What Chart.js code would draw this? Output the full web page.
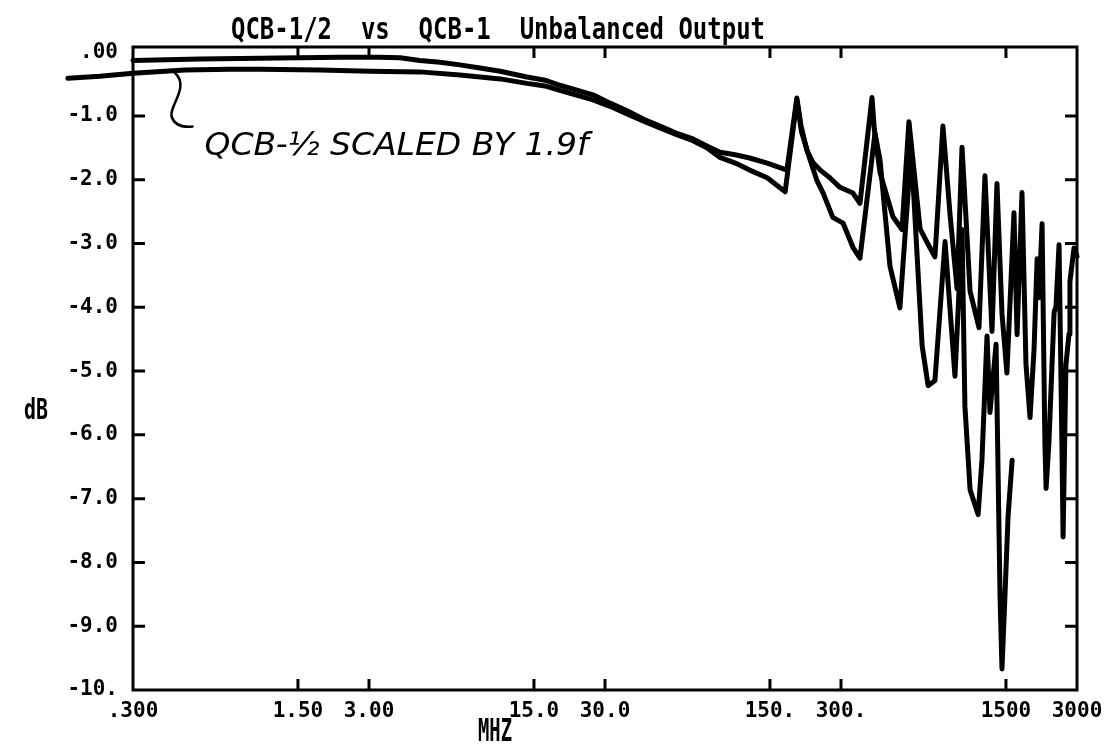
<!DOCTYPE html>
<html>
<head>
<meta charset="utf-8">
<title>QCB-1/2 vs QCB-1 Unbalanced Output</title>
<script src="https://cdn.jsdelivr.net/npm/chart.js@4/dist/chart.umd.min.js"></script>
<style>
  html, body { margin: 0; padding: 0; background: #fff; }
  #wrap { width: 1116px; height: 744px; position: relative; }
</style>
</head>
<body>
<div id="wrap"><canvas id="chart"></canvas></div>
<script>
// texts
const titleText = 'QCB-1/2  vs  QCB-1  Unbalanced Output';
const xTitle = 'MHZ';
const yTitle = 'dB';
const noteText = 'QCB-\u00BD SCALED BY 1.9f';

// axes
const xTicks = [0.3, 1.5, 3, 15, 30, 150, 300, 1500, 3000];
const xTickLabels = ['.300', '1.50', '3.00', '15.0', '30.0', '150.', '300.', '1500', '3000'];
const yTicks = [0, -1, -2, -3, -4, -5, -6, -7, -8, -9, -10];
const yTickLabels = ['.00', '-1.0', '-2.0', '-3.0', '-4.0', '-5.0', '-6.0', '-7.0', '-8.0', '-9.0', '-10.'];

// QCB-1 (MHz / dB)
const freqA = [
  0.3, 0.577, 1.53, 2.26, 3.34, 4.06, 4.93, 6.0, 7.28, 8.86,
  10.8, 14.0, 16.7, 19.3, 26.7, 31.5, 37.2, 43.5, 51.3, 60,
  70.8, 81, 92.1, 107, 123, 146, 177, 195, 203, 215,
  229, 245, 269, 297, 337, 361, 406, 415, 439, 498,
  544, 582, 649, 694, 750, 811, 869, 931, 977, 1057,
  1153, 1222, 1309, 1374, 1443, 1514, 1622, 1672, 1754, 1824,
  1897, 1973, 2033, 2071, 2134, 2193, 2219, 2281, 2399, 2444,
  2518, 2589, 2619, 2693, 2775, 2800, 2913, 3000];
const dbA = [
  -0.13, -0.11, -0.09, -0.08, -0.08, -0.09, -0.13, -0.16, -0.20, -0.25,
  -0.30, -0.39, -0.44, -0.52, -0.67, -0.80, -0.92, -1.05, -1.16, -1.27,
  -1.36, -1.47, -1.57, -1.61, -1.66, -1.74, -1.85, -0.72, -1.15, -1.54,
  -1.74, -1.85, -1.97, -2.12, -2.21, -2.37, -0.71, -1.20, -1.89, -2.58,
  -2.78, -1.09, -2.77, -2.98, -3.21, -1.16, -2.54, -3.71, -1.49, -3.75,
  -4.32, -1.94, -4.38, -2.06, -4.10, -5.03, -2.52, -4.43, -2.20, -4.90,
  -5.73, -4.66, -3.24, -3.85, -2.69, -6.12, -6.84, -6.12, -4.08, -3.99,
  -3.02, -6.12, -7.60, -4.90, -4.42, -3.60, -3.07, -3.20];

// QCB-1/2 scaled by 1.9f (MHz / dB)
const freqB = [
  0.159, 0.217, 0.3, 0.498, 0.773, 1.04, 1.86, 3.03, 4.93, 7.28,
  10.8, 14.0, 16.7, 19.3, 26.7, 31.5, 37.2, 43.5, 51.3, 60,
  70.8, 81, 92.1, 107, 123, 146, 174, 195, 204, 222,
  237, 252, 277, 306, 337, 361, 418, 439, 484, 533,
  595, 662, 702, 750, 828, 912, 977, 1005, 1057, 1143,
  1187, 1247, 1283, 1362, 1416, 1443, 1487, 1531, 1593];
const dbB = [
  -0.41, -0.38, -0.33, -0.28, -0.27, -0.27, -0.28, -0.30, -0.31, -0.36,
  -0.42, -0.49, -0.53, -0.60, -0.75, -0.85, -0.97, -1.08, -1.19, -1.29,
  -1.39, -1.50, -1.65, -1.74, -1.85, -1.97, -2.19, -0.75, -1.25, -1.69,
  -2.01, -2.21, -2.59, -2.68, -3.06, -3.23, -1.27, -1.69, -3.36, -4.01,
  -1.52, -4.60, -5.23, -5.15, -2.97, -5.08, -2.78, -5.55, -6.86, -7.25,
  -6.39, -4.45, -5.65, -4.58, -8.54, -9.67, -8.48, -7.28, -6.40];

const monoFont = '"DejaVu Sans Mono", "Liberation Mono", monospace';

// draw a text squeezed to a given width (plotter lettering is tall and narrow)
function fitText(c, text, cx, baseline, width, font) {
  c.save();
  c.font = font;
  const w = c.measureText(text).width;
  c.translate(cx, baseline);
  c.scale(width / w, 1);
  c.textAlign = 'center';
  c.textBaseline = 'alphabetic';
  c.fillText(text, 0, 0);
  c.restore();
}

const framePlugin = {
  id: 'plotterFrame',
  afterDatasetsDraw(chart) {
    const c = chart.ctx;
    const a = chart.chartArea;
    const xs = chart.scales.x;
    const ys = chart.scales.y;
    c.save();
    c.strokeStyle = '#000';
    c.fillStyle = '#000';
    c.lineWidth = 3;
    c.strokeRect(a.left, a.top, a.right - a.left, a.bottom - a.top);

    // inward tick marks
    c.beginPath();
    yTicks.slice(1, -1).forEach(v => {
      const y = ys.getPixelForValue(v);
      c.moveTo(a.left, y); c.lineTo(a.left + 12, y);
      c.moveTo(a.right, y); c.lineTo(a.right - 12, y);
    });
    xTicks.slice(1, -1).forEach(v => {
      const x = xs.getPixelForValue(v);
      c.moveTo(x, a.bottom); c.lineTo(x, a.bottom - 11);
      c.moveTo(x, a.top); c.lineTo(x, a.top + 11);
    });
    c.stroke();

    // handwritten note with its leader
    const lx = xs.getPixelForValue(0.45);
    const ly = ys.getPixelForValue(-0.32);
    c.lineWidth = 2.5;
    c.lineCap = 'round';
    c.beginPath();
    c.moveTo(lx, ly);
    c.bezierCurveTo(lx + 16, ly + 14, lx - 6, ly + 34, lx - 3, ly + 44);
    c.quadraticCurveTo(lx + 1, ly + 56, lx + 18, ly + 54);
    c.stroke();
    fitText(c, noteText, lx + 222, ly + 82, 384, 'italic 32px "DejaVu Sans", sans-serif');

    // title and axis names
    fitText(c, titleText, 498, 39, 534, 'bold 30px ' + monoFont);
    fitText(c, xTitle, 495, 741, 34, 'bold 32px ' + monoFont);
    fitText(c, yTitle, 36, 419, 24, 'bold 29px ' + monoFont);
    c.restore();
  }
};

const tickFont = { family: monoFont, size: 21, weight: 'bold' };

function toPoints(fs, ds) {
  return fs.map((f, i) => ({ x: f, y: ds[i] }));
}

const lineStyle = {
  borderColor: '#000',
  borderWidth: 5,
  borderJoinStyle: 'round',
  borderCapStyle: 'round',
  pointRadius: 0,
  tension: 0,
  clip: false
};

const ctx = document.getElementById('chart').getContext('2d');
new Chart(ctx, {
  type: 'line',
  data: {
    datasets: [
      Object.assign({ label: 'QCB-1', data: toPoints(freqA, dbA) }, lineStyle),
      Object.assign({ label: 'QCB-1/2 scaled by 1.9f', data: toPoints(freqB, dbB) }, lineStyle)
    ]
  },
  options: {
    responsive: true,
    maintainAspectRatio: false,
    animation: false,
    layout: { padding: { top: 47, right: 39, left: 0, bottom: 0 } },
    plugins: {
      legend: { display: false },
      tooltip: { enabled: false },
      title: { display: false }
    },
    scales: {
      x: {
        type: 'logarithmic',
        bounds: 'data',
        grid: { display: false, drawTicks: false },
        border: { display: false },
        ticks: {
          autoSkip: false,
          maxRotation: 0,
          padding: 9,
          color: '#000',
          font: tickFont,
          callback: (v, i) => xTickLabels[i]
        },
        afterBuildTicks: s => {
          s.ticks = xTicks.map(v => ({ value: v }));
          s.min = xTicks[0];
          s.max = xTicks[xTicks.length - 1];
        },
        afterFit: s => { s.height = 54; }
      },
      y: {
        type: 'linear',
        min: -10,
        max: 0.08,
        grid: { display: false, drawTicks: false },
        border: { display: false },
        ticks: {
          autoSkip: false,
          padding: 15,
          color: '#000',
          font: tickFont,
          callback: (v, i) => yTickLabels[i]
        },
        afterBuildTicks: s => { s.ticks = yTicks.map(v => ({ value: v })); },
        afterFit: s => { s.width = 133; }
      }
    }
  },
  plugins: [framePlugin]
});
</script>
</body>
</html>
